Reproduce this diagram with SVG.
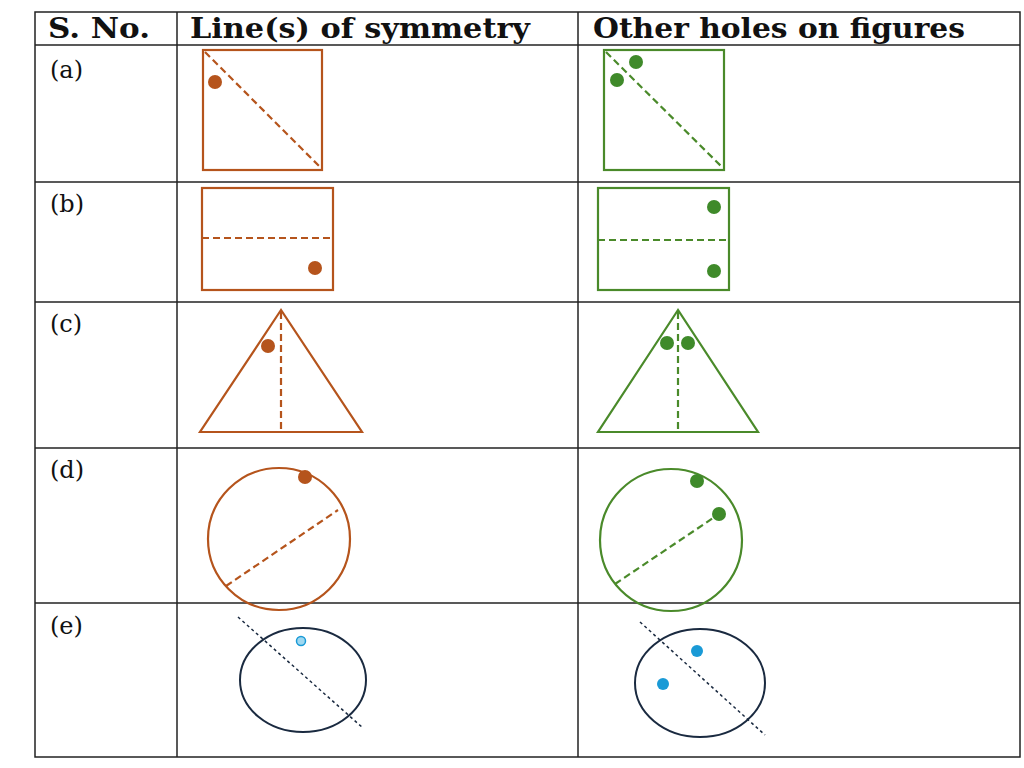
<svg xmlns="http://www.w3.org/2000/svg" width="1024" height="768" viewBox="0 0 1024 768">
<style>
.h{font-family:"DejaVu Serif","Liberation Serif",serif;font-weight:bold;font-size:27px;fill:#111}
.l{font-family:"DejaVu Serif","Liberation Serif",serif;font-size:24px;fill:#111}
.g{stroke:#222;stroke-width:1.5;fill:none}
.br{stroke:#b5541c;stroke-width:2.2;fill:none}
.gr{stroke:#4a8a2a;stroke-width:2.2;fill:none}
.d{stroke-dasharray:7 4}
.bd{fill:#b5541c}.gd{fill:#3f8a2a}.bl{fill:#1a9ad6}
.nv{stroke:#1a2a40;stroke-width:2;fill:none}
.dt{stroke:#1a2a40;stroke-width:1.5;stroke-dasharray:3 3}
</style>
<rect width="1024" height="768" fill="#fff"/>
<g id="table">
<rect class="g" x="35" y="12" width="985" height="745"/>
<line class="g" x1="177" y1="12" x2="177" y2="757"/>
<line class="g" x1="578" y1="12" x2="578" y2="757"/>
<line class="g" x1="35" y1="45" x2="1020" y2="45"/>
<line class="g" x1="35" y1="182" x2="1020" y2="182"/>
<line class="g" x1="35" y1="302" x2="1020" y2="302"/>
<line class="g" x1="35" y1="448" x2="1020" y2="448"/>
<line class="g" x1="35" y1="603" x2="1020" y2="603"/>
<text class="h" x="48" y="38" textLength="102" lengthAdjust="spacingAndGlyphs">S. No.</text>
<text class="h" x="190" y="38" textLength="340" lengthAdjust="spacingAndGlyphs">Line(s) of symmetry</text>
<text class="h" x="593" y="38" textLength="372" lengthAdjust="spacingAndGlyphs">Other holes on figures</text>
<text class="l" x="50" y="78">(a)</text>
<text class="l" x="50" y="212">(b)</text>
<text class="l" x="50" y="332">(c)</text>
<text class="l" x="50" y="478">(d)</text>
<text class="l" x="50" y="634">(e)</text>
</g>
<g id="a">
<rect class="br" x="203" y="50" width="119" height="120"/>
<line class="br d" x1="205" y1="52" x2="321" y2="168"/>
<circle class="bd" cx="215" cy="82" r="7"/>
<rect class="gr" x="604" y="50" width="120" height="120"/>
<line class="gr d" x1="606" y1="52" x2="723" y2="168"/>
<circle class="gd" cx="617" cy="80" r="7"/>
<circle class="gd" cx="636" cy="62" r="7"/>
</g>
<g id="b">
<rect class="br" x="202" y="188" width="131" height="102"/>
<line class="br d" x1="202" y1="238" x2="333" y2="238"/>
<circle class="bd" cx="315" cy="268" r="7"/>
<rect class="gr" x="598" y="188" width="131" height="102"/>
<line class="gr d" x1="598" y1="240" x2="729" y2="240"/>
<circle class="gd" cx="714" cy="207" r="7"/>
<circle class="gd" cx="714" cy="271" r="7"/>
</g>
<g id="c">
<polygon class="br" points="281,310 200,432 362,432"/>
<line class="br d" x1="281" y1="312" x2="281" y2="432"/>
<circle class="bd" cx="268" cy="346" r="7"/>
<polygon class="gr" points="678,310 598,432 758,432"/>
<line class="gr d" x1="678" y1="312" x2="678" y2="432"/>
<circle class="gd" cx="667" cy="343" r="7"/>
<circle class="gd" cx="688" cy="343" r="7"/>
</g>
<g id="d">
<circle class="br" cx="279" cy="539" r="71"/>
<line class="br d" x1="226" y1="586" x2="338" y2="510"/>
<circle class="bd" cx="305" cy="477" r="7"/>
<circle class="gr" cx="671" cy="540" r="71"/>
<line class="gr d" x1="615" y1="584" x2="722" y2="512"/>
<circle class="gd" cx="697" cy="481" r="7"/>
<circle class="gd" cx="719" cy="514" r="7"/>
</g>
<g id="e">
<ellipse class="nv" cx="303" cy="680" rx="63" ry="52"/>
<line class="dt" x1="238" y1="617" x2="363" y2="728"/>
<circle cx="301" cy="641" r="4.5" fill="#9fd8f0" stroke="#1a9ad6" stroke-width="1.5"/>
<ellipse class="nv" cx="700" cy="683" rx="65" ry="54"/>
<line class="dt" x1="640" y1="622" x2="765" y2="735"/>
<circle class="bl" cx="697" cy="651" r="6"/>
<circle class="bl" cx="663" cy="684" r="6"/>
</g>
</svg>
